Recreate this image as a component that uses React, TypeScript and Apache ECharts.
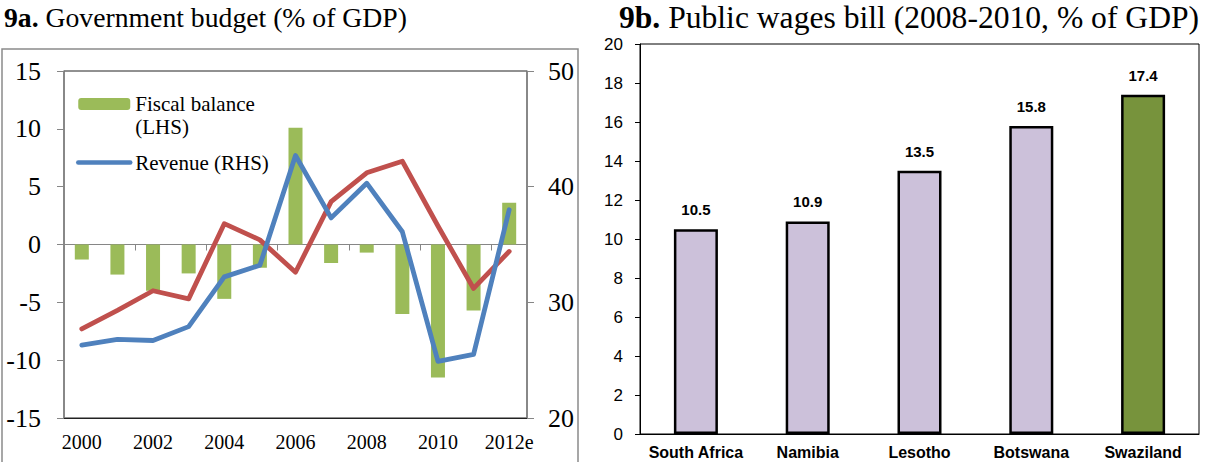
import React, { useEffect, useRef } from 'react';
import * as echarts from 'echarts';

const years = ['2000', '2001', '2002', '2003', '2004', '2005', '2006', '2007', '2008', '2009', '2010', '2011', '2012e'];
const fiscalBalance = [-1.3, -2.6, -4.0, -2.5, -4.7, -2.0, 10.1, -1.6, -0.7, -6.0, -11.5, -5.7, 3.6];
const revenue = [26.3, 26.8, 26.7, 27.9, 32.2, 33.2, 42.7, 37.3, 40.3, 36.1, 24.9, 25.5, 38.0];
const expenditure = [27.7, 29.3, 31.0, 30.3, 36.8, 35.4, 32.6, 38.7, 41.2, 42.2, 36.6, 31.2, 34.4];

const countries = ['South Africa', 'Namibia', 'Lesotho', 'Botswana', 'Swaziland'];
const wagesBill = [10.5, 10.9, 13.5, 15.8, 17.4];
const wagesColors = ['#CCC1DA', '#CCC1DA', '#CCC1DA', '#CCC1DA', '#77933C'];

const SERIF = "'Liberation Serif', 'Times New Roman', serif";
const SANS = "'Liberation Sans', Arial, sans-serif";

export default function App() {
  const ref = useRef<HTMLDivElement>(null);
  useEffect(() => {
    if (!ref.current) return;
    const chart = echarts.init(ref.current, undefined, { renderer: 'svg' });
    const option: any = {
      animation: false,
      backgroundColor: '#fff',
      title: [
        {
          text: '{b|9a.} Government budget (% of GDP)',
          left: 4, top: 3, padding: 0,
          textStyle: { fontFamily: SERIF, fontSize: 27.7, fontWeight: 'normal', color: '#000',
            rich: { b: { fontFamily: SERIF, fontSize: 27.7, fontWeight: 'bold', color: '#000' } } },
        },
        {
          text: '{b|9b.} Public wages bill (2008-2010, % of GDP)',
          left: 619, top: 1, padding: 0,
          textStyle: { fontFamily: SERIF, fontSize: 31.6, fontWeight: 'normal', color: '#000',
            rich: { b: { fontFamily: SERIF, fontSize: 31.6, fontWeight: 'bold', color: '#000' } } },
        },
      ],
      graphic: [
        { type: 'rect', shape: { x: 2, y: 49, width: 576, height: 430 }, style: { fill: 'none', stroke: '#8a8a8a', lineWidth: 1.5 }, silent: true },
      ],
      legend: {
        data: [
          { name: 'Fiscal balance (LHS)' },
          { name: 'Revenue (RHS)', itemStyle: { opacity: 0 }, lineStyle: { width: 4.5, cap: 'round' } },
        ],
        orient: 'vertical',
        left: 76, top: 69.5, padding: 0,
        itemWidth: 52, itemHeight: 12, itemGap: 12.5,
        lineStyle: { width: 4.5, cap: 'round' },
        formatter: (n: string) => (n === 'Fiscal balance (LHS)' ? ' \nFiscal balance\n(LHS)' : n),
        textStyle: { fontFamily: SERIF, fontSize: 21, color: '#000', lineHeight: 23 },
        selectedMode: false,
      },
      grid: [
        { left: 64, top: 71, width: 463, height: 347, show: true, borderColor: '#222', borderWidth: 1, backgroundColor: 'transparent' },
        { left: 640, top: 44, width: 559, height: 390, show: true, borderColor: '#000', borderWidth: 1, backgroundColor: 'transparent' },
      ],
      xAxis: [
        {
          gridIndex: 0, type: 'category', data: years, position: 'bottom',
          axisLine: { show: true, onZero: false, lineStyle: { color: '#222', width: 1 } },
          axisTick: { show: false },
          axisLabel: { interval: 1, fontFamily: SERIF, fontSize: 20, color: '#000', margin: 14 },
        },
        {
          gridIndex: 0, type: 'category', data: years, position: 'bottom',
          axisLine: { show: true, onZero: true, onZeroAxisIndex: 0, lineStyle: { color: '#868686', width: 1 } },
          axisTick: { show: true, inside: false, length: 6, lineStyle: { color: '#868686' } },
          axisLabel: { show: false },
        },
        {
          gridIndex: 1, type: 'category', data: countries,
          axisLine: { show: true, lineStyle: { color: '#000', width: 1 } },
          axisTick: { show: false },
          axisLabel: { interval: 0, fontFamily: SANS, fontSize: 16, fontWeight: 'bold', color: '#000', margin: 10 },
        },
      ],
      yAxis: [
        {
          gridIndex: 0, type: 'value', min: -15, max: 15, interval: 5, position: 'left',
          axisLine: { show: true, lineStyle: { color: '#868686', width: 1.5 } },
          axisTick: { show: true, length: 7, lineStyle: { color: '#868686' } },
          axisLabel: { fontFamily: SERIF, fontSize: 26, color: '#000', margin: 23 },
          splitLine: { show: false },
        },
        {
          gridIndex: 0, type: 'value', min: 20, max: 50, interval: 10, position: 'right',
          axisLine: { show: true, lineStyle: { color: '#868686', width: 1.5 } },
          axisTick: { show: true, length: 7, lineStyle: { color: '#868686' } },
          axisLabel: { fontFamily: SERIF, fontSize: 26, color: '#000', margin: 21 },
          splitLine: { show: false },
        },
        {
          gridIndex: 1, type: 'value', min: 0, max: 20, interval: 2,
          axisLine: { show: true, lineStyle: { color: '#000', width: 1 } },
          axisTick: { show: true, length: 5, lineStyle: { color: '#000' } },
          axisLabel: { fontFamily: SANS, fontSize: 17, color: '#000', margin: 17 },
          splitLine: { show: false },
        },
      ],
      series: [
        {
          name: 'Fiscal balance (LHS)', type: 'bar', xAxisIndex: 0, yAxisIndex: 0,
          data: fiscalBalance, barWidth: 14, itemStyle: { color: '#9BBB59' }, z: 2,
        },
        {
          name: 'Revenue (RHS)', type: 'line', xAxisIndex: 0, yAxisIndex: 1,
          data: revenue, symbol: 'none', showSymbol: false, z: 4,
          itemStyle: { color: '#4F81BD' },
          lineStyle: { color: '#4F81BD', width: 4.8, cap: 'round', join: 'round' },
        },
        {
          name: 'Expenditure (RHS)', type: 'line', xAxisIndex: 0, yAxisIndex: 1,
          data: expenditure, symbol: 'none', showSymbol: false, z: 3,
          itemStyle: { color: '#C0504D' },
          lineStyle: { color: '#C0504D', width: 4.8, cap: 'round', join: 'round' },
        },
        {
          name: 'Public wages bill', type: 'bar', xAxisIndex: 2, yAxisIndex: 2,
          barWidth: 44,
          data: wagesBill.map((v, i) => ({ value: v, itemStyle: { color: wagesColors[i], borderColor: '#000', borderWidth: 2.5 } })),
          label: { show: true, position: 'top', distance: 12, fontFamily: SANS, fontSize: 15, fontWeight: 'bold', color: '#000', formatter: (p: any) => p.value.toFixed(1) },
        },
      ],
    };
    chart.setOption(option);
    return () => chart.dispose();
  }, []);
  return <div ref={ref} style={{ position: 'fixed', left: 0, top: 0, width: 1207, height: 462, background: '#fff' }} />;
}
